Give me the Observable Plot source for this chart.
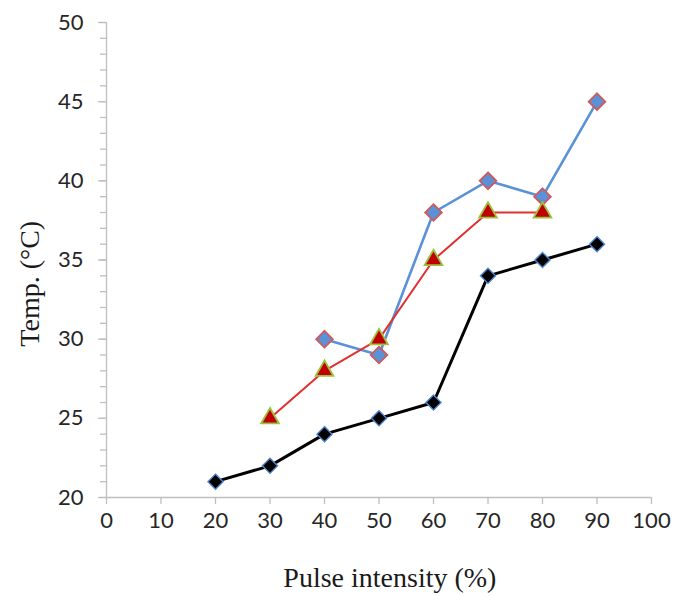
<!DOCTYPE html>
<html>
<head>
<meta charset="utf-8">
<script src="https://cdn.jsdelivr.net/npm/d3@7"></script>
<script src="https://cdn.jsdelivr.net/npm/@observablehq/plot@0.6"></script>
<style>
  html, body { margin: 0; padding: 0; background: #fff; }
  #chart { width: 673px; height: 596px; }
</style>
</head>
<body>
<div id="chart"></div>
<script>
// Data
const blackX = [20, 30, 40, 50, 60, 70, 80, 90];
const blackY = [21, 22, 24, 25, 26, 34, 35, 36];

const redX = [30, 40, 50, 60, 70, 80];
const redY = [25, 28, 30, 35, 38, 38];

const blueX = [40, 50, 60, 70, 80, 90];
const blueY = [30, 29, 38, 40, 39, 45];

const xTicks = [0, 10, 20, 30, 40, 50, 60, 70, 80, 90, 100];
const yTicks = [20, 25, 30, 35, 40, 45, 50];
const yMinorTicks = d3.range(20, 51, 1);

const xLabel = "Pulse intensity (%)";
const yLabel = "Temp. (°C)";

const toRows = (xs, ys) => xs.map((x, i) => ({x, y: ys[i]}));
const black = toRows(blackX, blackY);
const red = toRows(redX, redY);
const blue = toRows(blueX, blueY);

const axisColor = "#bfbfbf";
const tickFont = "Lato, 'Open Sans', sans-serif";
const titleFont = "'Liberation Serif', 'DejaVu Serif', serif";

const chart = Plot.plot({
  width: 673,
  height: 596,
  marginLeft: 106,
  marginRight: 22,
  marginTop: 22,
  marginBottom: 99,
  style: {background: "#fff", overflow: "visible"},
  x: {domain: [0, 100]},
  y: {domain: [20, 50]},
  marks: [
    // axis lines
    Plot.ruleX([0], {stroke: axisColor, strokeWidth: 1.3}),
    Plot.ruleY([20], {stroke: axisColor, strokeWidth: 1.3}),
    // minor y ticks
    Plot.axisY(yMinorTicks, {tickSize: 6, text: null, label: null, stroke: axisColor, strokeWidth: 1.3, strokeOpacity: 1}),
    // major y ticks + labels
    Plot.axisY(yTicks, {tickSize: 8, tickPadding: 15, stroke: axisColor, strokeWidth: 1.3, strokeOpacity: 1,
      fill: "#262626", fontSize: 22, fontFamily: tickFont, label: null}),
    // x ticks + labels
    Plot.axisX(xTicks, {tickSize: 7, tickPadding: 8, stroke: axisColor, strokeWidth: 1.3, strokeOpacity: 1,
      fill: "#262626", fontSize: 22, fontFamily: tickFont, label: null}),
    // blue series
    Plot.line(blue, {x: "x", y: "y", stroke: "#5b91d8", strokeWidth: 2.6}),
    Plot.dot(blue, {x: "x", y: "y", symbol: "diamond2", r: 7.5, fill: "#5b91d8", stroke: "#cf5a5a", strokeWidth: 1.8}),
    // red series
    Plot.line(red, {x: "x", y: "y", stroke: "#e03030", strokeWidth: 2}),
    Plot.dot(red, {x: "x", y: "y", symbol: "triangle", r: 6.6, fill: "#c00000", stroke: "#9bc23c", strokeWidth: 1.8}),
    // black series
    Plot.line(black, {x: "x", y: "y", stroke: "#000", strokeWidth: 3}),
    Plot.dot(black, {x: "x", y: "y", symbol: "diamond2", r: 6.8, fill: "#000", stroke: "#4f86d0", strokeWidth: 1.4}),
    // axis titles
    Plot.text([xLabel], {x: 52, y: 14.9, text: d => d, textAnchor: "middle", lineAnchor: "middle",
      fontSize: 28, fontFamily: titleFont, fill: "#1a1a1a"}),
    Plot.text([yLabel], {x: -14, y: 33.5, rotate: -90, text: d => d, textAnchor: "middle", lineAnchor: "middle",
      fontSize: 28, fontFamily: titleFont, fill: "#1a1a1a"})
  ]
});
document.getElementById("chart").appendChild(chart);
</script>
</body>
</html>
